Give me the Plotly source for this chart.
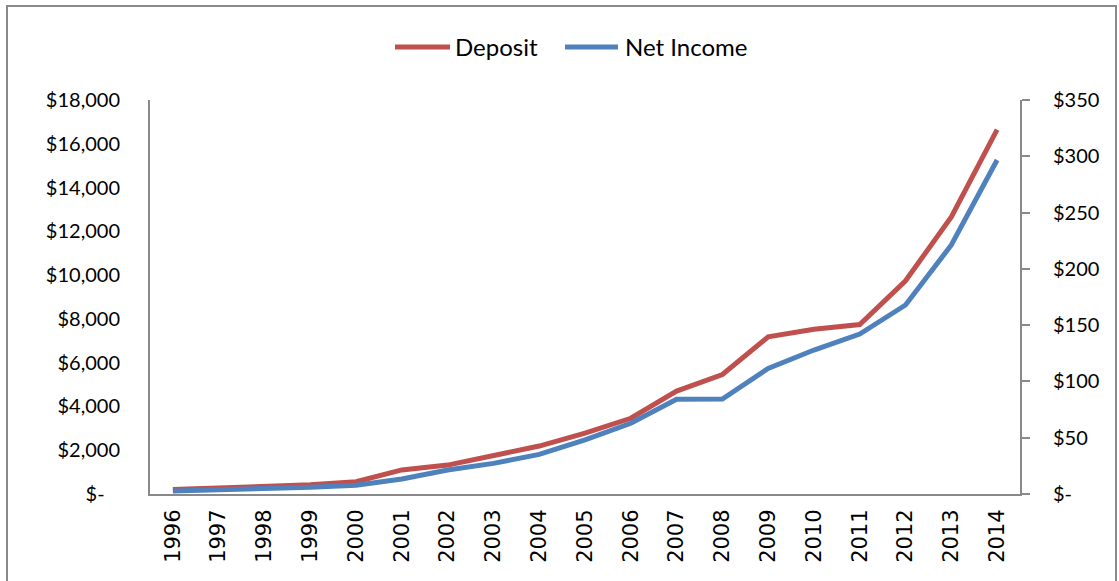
import plotly.graph_objects as go

# Yearly figures
years = [str(y) for y in range(1996, 2015)]
deposit = [200, 280, 330, 420, 560, 1100, 1320, 1780, 2190, 2780, 3460, 4700, 5460,
           7180, 7530, 7740, 9740, 12660, 16650]
net_income = [2.7, 3.6, 4.2, 6.0, 7.7, 13.3, 21.3, 27.2, 35.2, 48.0, 62.8, 84.1, 84.4,
              111.6, 127.9, 142.1, 167.9, 221.2, 296.7]

left_vals = list(range(0, 18001, 2000))
left_text = ["$-\u00a0\u00a0\u00a0"] + [f"${v:,}" for v in left_vals[1:]]
right_vals = list(range(0, 351, 50))
right_text = ["$-"] + [f"${v}" for v in right_vals[1:]]

series_names = ["Deposit", "Net Income"]
series_colors = ["#C0504D", "#4F81BD"]

W, H = 1119, 581
L, R, T, B = 150, 1020, 100, 494  # plot area in pixels


def px_x(px):
    return (px - L) / (R - L)


def px_y(py):
    return (B - py) / (B - T)


fig = go.Figure()
fig.add_trace(go.Scatter(x=years, y=deposit, name=series_names[0], mode="lines",
                         line=dict(color=series_colors[0], width=5), yaxis="y"))
fig.add_trace(go.Scatter(x=years, y=net_income, name=series_names[1], mode="lines",
                         line=dict(color=series_colors[1], width=5), yaxis="y2"))

axis_col = "#898989"
label_font = dict(family="Lato", size=20, color="#000000")

fig.update_layout(
    width=W, height=H,
    margin=dict(l=L, r=W - R, t=T, b=H - B, pad=0),
    paper_bgcolor="white", plot_bgcolor="white",
    showlegend=False,
    xaxis=dict(type="category", range=[-0.5, 18.5], showgrid=False, zeroline=False,
               showline=True, linecolor=axis_col, linewidth=2, ticks="",
               tickangle=-90, tickfont=dict(family="DejaVu Sans", size=21, color="#000000"),
               ticklabelstandoff=5),
    yaxis=dict(range=[0, 18000], tickvals=left_vals, ticktext=left_text,
               showgrid=False, zeroline=False, showline=True, linecolor=axis_col,
               linewidth=2, ticks="", tickfont=label_font, ticklabelstandoff=24),
    yaxis2=dict(range=[0, 350], tickvals=right_vals, ticktext=right_text,
                overlaying="y", side="right", showgrid=False, zeroline=False,
                showline=True, linecolor=axis_col, linewidth=2, ticks="outside",
                ticklen=8, tickwidth=2, tickcolor=axis_col, tickfont=label_font,
                ticklabelstandoff=19),
)

# Legend drawn as line swatches with labels at the top
legend_items = [(395, 450, 453), (565, 618, 623)]
for (x0, x1, tx), name, col in zip(legend_items, series_names, series_colors):
    fig.add_shape(type="line", xref="paper", yref="paper",
                  x0=px_x(x0), x1=px_x(x1), y0=px_y(47), y1=px_y(47),
                  line=dict(color=col, width=5))
    fig.add_annotation(xref="paper", yref="paper", x=px_x(tx), y=px_y(47),
                       xanchor="left", yanchor="middle", showarrow=False, text=name,
                       font=dict(family="Lato", size=24, color="#000000"))

# Chart frame
fig.add_shape(type="rect", xref="paper", yref="paper",
              x0=px_x(7), x1=px_x(1116), y0=px_y(600), y1=px_y(6),
              line=dict(color="#8A8A8A", width=2), fillcolor="rgba(0,0,0,0)", layer="below")

fig.write_html("out.html")
